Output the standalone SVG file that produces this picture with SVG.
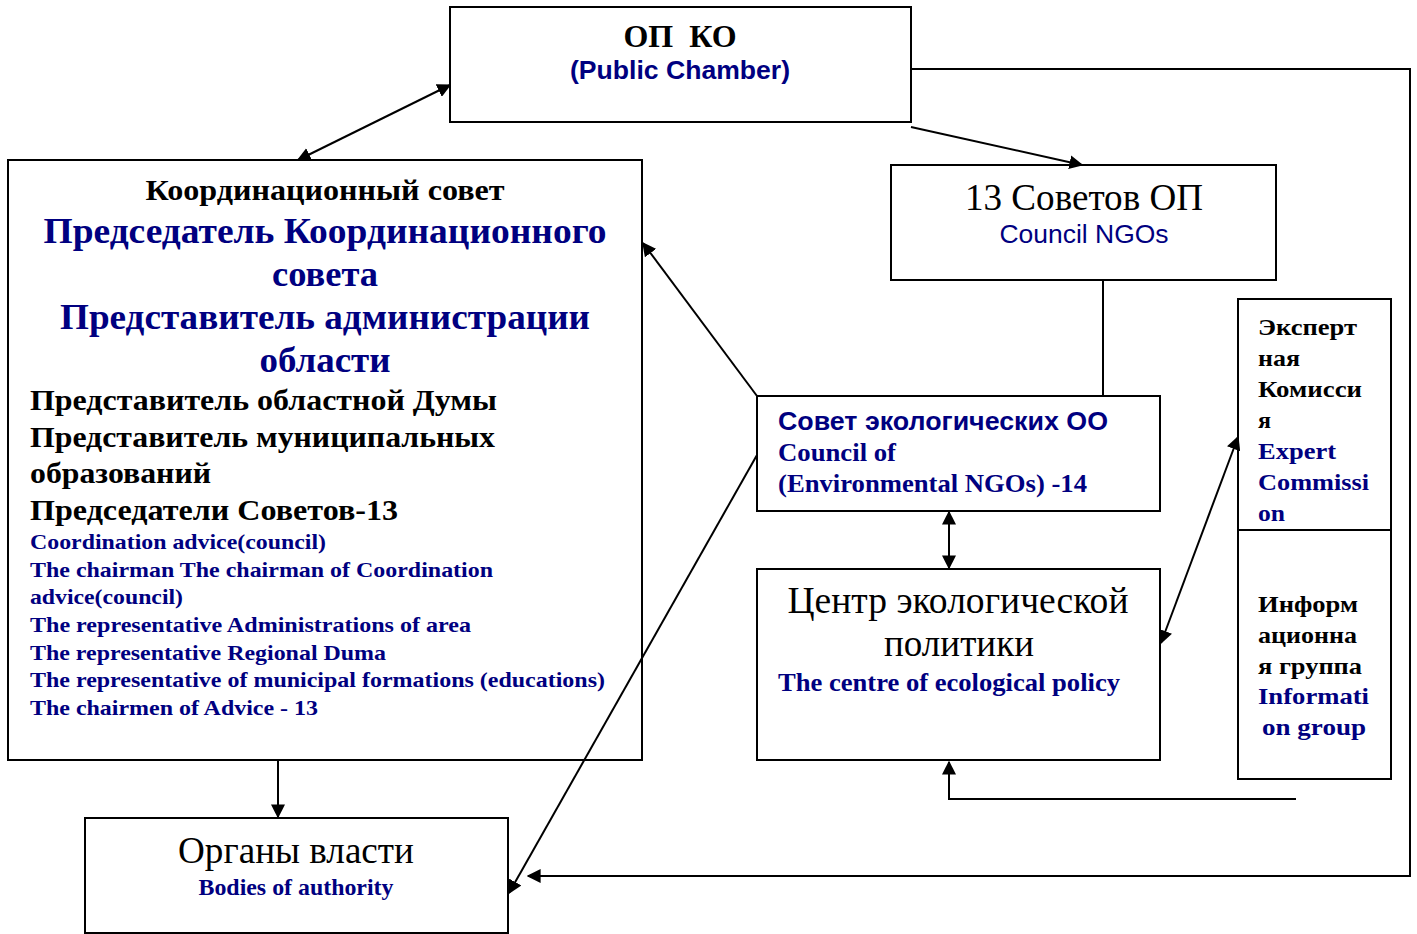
<svg xmlns="http://www.w3.org/2000/svg" width="1417" height="934" viewBox="0 0 1417 934">
<style>
.box{fill:#fff;stroke:#000;stroke-width:2}
.ln{fill:none;stroke:#000;stroke-width:2}
.ser{font-family:"Liberation Serif","Times New Roman",serif}
.san{font-family:"Liberation Sans",Arial,sans-serif}
.b{font-weight:bold}
.blue{fill:#000080}
.blk{fill:#000}
.c{text-anchor:middle}
text{white-space:pre}
</style>
<defs>
<marker id="ah" viewBox="0 0 10 10" refX="9" refY="5" markerWidth="14" markerHeight="14" markerUnits="userSpaceOnUse" orient="auto-start-reverse">
<path d="M0,0 L10,5 L0,10 z" fill="#000"/>
</marker>
</defs>
<rect width="1417" height="934" fill="#fff"/>
<g id="node-op">
<rect class="box" x="450" y="7" width="461" height="115"/>
<text class="ser b blk c" x="680" y="47" font-size="32" textLength="113" lengthAdjust="spacingAndGlyphs">ОП  КО</text>
<text class="san b blue c" x="680" y="79" font-size="26" textLength="220" lengthAdjust="spacingAndGlyphs">(Public Chamber)</text>
</g>
<g id="node-coord">
<rect class="box" x="8" y="160" width="634" height="600"/>
<text class="ser b blk c" x="325" y="200" font-size="29" textLength="359" lengthAdjust="spacingAndGlyphs">Координационный совет</text>
<text class="ser b blue c" x="325" y="243" font-size="36" textLength="563" lengthAdjust="spacingAndGlyphs">Председатель Координационного</text>
<text class="ser b blue c" x="325" y="286" font-size="36" textLength="106" lengthAdjust="spacingAndGlyphs">совета</text>
<text class="ser b blue c" x="325" y="329" font-size="36" textLength="530" lengthAdjust="spacingAndGlyphs">Представитель администрации</text>
<text class="ser b blue c" x="325" y="372" font-size="36" textLength="131" lengthAdjust="spacingAndGlyphs">области</text>
<text class="ser b blk" x="30" y="410" font-size="30" textLength="467" lengthAdjust="spacingAndGlyphs">Представитель областной Думы</text>
<text class="ser b blk" x="30" y="447" font-size="30" textLength="465" lengthAdjust="spacingAndGlyphs">Представитель муниципальных</text>
<text class="ser b blk" x="30" y="483" font-size="30" textLength="181" lengthAdjust="spacingAndGlyphs">образований</text>
<text class="ser b blk" x="30" y="520" font-size="30" textLength="368" lengthAdjust="spacingAndGlyphs">Председатели Советов-13</text>
<text class="ser b blue" x="30" y="549" font-size="22" textLength="296" lengthAdjust="spacingAndGlyphs">Coordination advice(council)</text>
<text class="ser b blue" x="30" y="577" font-size="22" textLength="463" lengthAdjust="spacingAndGlyphs">The chairman The chairman of Coordination</text>
<text class="ser b blue" x="30" y="604" font-size="22" textLength="153" lengthAdjust="spacingAndGlyphs">advice(council)</text>
<text class="ser b blue" x="30" y="632" font-size="22" textLength="441" lengthAdjust="spacingAndGlyphs">The representative Administrations of area</text>
<text class="ser b blue" x="30" y="660" font-size="22" textLength="356" lengthAdjust="spacingAndGlyphs">The representative Regional Duma</text>
<text class="ser b blue" x="30" y="687" font-size="22" textLength="575" lengthAdjust="spacingAndGlyphs">The representative of municipal formations (educations)</text>
<text class="ser b blue" x="30" y="715" font-size="22" textLength="288" lengthAdjust="spacingAndGlyphs">The chairmen of Advice - 13</text>
</g>
<g id="node-13">
<rect class="box" x="891" y="165" width="385" height="115"/>
<text class="ser blk c" x="1084" y="210" font-size="37" textLength="238" lengthAdjust="spacingAndGlyphs">13 Советов ОП</text>
<text class="san blue c" x="1084" y="243" font-size="26" textLength="169" lengthAdjust="spacingAndGlyphs">Council NGOs</text>
</g>
<g id="node-sovet">
<rect class="box" x="757" y="396" width="403" height="115"/>
<text class="san b blue" x="778" y="430" font-size="26" textLength="330" lengthAdjust="spacingAndGlyphs">Совет экологических ОО</text>
<text class="ser b blue" x="778" y="461" font-size="26" textLength="118" lengthAdjust="spacingAndGlyphs">Council of</text>
<text class="ser b blue" x="778" y="492" font-size="26" textLength="309" lengthAdjust="spacingAndGlyphs">(Environmental NGOs) -14</text>
</g>
<g id="node-centr">
<rect class="box" x="757" y="569" width="403" height="191"/>
<text class="ser blk c" x="958" y="613" font-size="37" textLength="341" lengthAdjust="spacingAndGlyphs">Центр экологической</text>
<text class="ser blk c" x="959" y="656" font-size="37" textLength="150" lengthAdjust="spacingAndGlyphs">политики</text>
<text class="ser b blue" x="778" y="691" font-size="26" textLength="342" lengthAdjust="spacingAndGlyphs">The centre of ecological policy</text>
</g>
<g id="node-expert">
<rect class="box" x="1238" y="299" width="153" height="480"/>
<line class="ln" x1="1238" y1="530" x2="1391" y2="530"/>
<text class="ser b blk" x="1258" y="335" font-size="24" textLength="99" lengthAdjust="spacingAndGlyphs">Эксперт</text>
<text class="ser b blk" x="1258" y="366" font-size="24" textLength="42" lengthAdjust="spacingAndGlyphs">ная</text>
<text class="ser b blk" x="1258" y="397" font-size="24" textLength="104" lengthAdjust="spacingAndGlyphs">Комисси</text>
<text class="ser b blk" x="1258" y="428" font-size="24">я</text>
<text class="ser b blue" x="1258" y="459" font-size="24" textLength="78" lengthAdjust="spacingAndGlyphs">Expert</text>
<text class="ser b blue" x="1258" y="490" font-size="24" textLength="111" lengthAdjust="spacingAndGlyphs">Commissi</text>
<text class="ser b blue" x="1258" y="521" font-size="24" textLength="27" lengthAdjust="spacingAndGlyphs">on</text>
<text class="ser b blk" x="1258" y="612" font-size="24" textLength="100" lengthAdjust="spacingAndGlyphs">Информ</text>
<text class="ser b blk" x="1258" y="643" font-size="24" textLength="99" lengthAdjust="spacingAndGlyphs">ационна</text>
<text class="ser b blk" x="1258" y="674" font-size="24" textLength="104" lengthAdjust="spacingAndGlyphs">я группа</text>
<text class="ser b blue" x="1258" y="704" font-size="24" textLength="111" lengthAdjust="spacingAndGlyphs">Informati</text>
<text class="ser b blue" x="1262" y="735" font-size="24" textLength="104" lengthAdjust="spacingAndGlyphs">on group</text>
</g>
<g id="node-organy">
<rect class="box" x="85" y="818" width="423" height="115"/>
<text class="ser blk c" x="296" y="863" font-size="37" textLength="236" lengthAdjust="spacingAndGlyphs">Органы власти</text>
<text class="ser b blue c" x="296" y="895" font-size="24" textLength="195" lengthAdjust="spacingAndGlyphs">Bodies of authority</text>
</g>
<g id="connectors">
<line class="ln" x1="298" y1="160" x2="450" y2="85" marker-start="url(#ah)" marker-end="url(#ah)"/>
<line class="ln" x1="911" y1="127" x2="1082" y2="165" marker-end="url(#ah)"/>
<polyline class="ln" points="912,69 1410,69 1410,876 528,876" marker-end="url(#ah)"/>
<line class="ln" x1="1103" y1="281" x2="1103" y2="395"/>
<line class="ln" x1="757" y1="396" x2="643" y2="243" marker-end="url(#ah)"/>
<line class="ln" x1="757" y1="455" x2="509" y2="893" marker-end="url(#ah)"/>
<line class="ln" x1="949" y1="512" x2="949" y2="568" marker-start="url(#ah)" marker-end="url(#ah)"/>
<line class="ln" x1="1161" y1="643" x2="1238" y2="437" marker-start="url(#ah)" marker-end="url(#ah)"/>
<polyline class="ln" points="1296,799 949,799 949,762" marker-end="url(#ah)"/>
<line class="ln" x1="278" y1="761" x2="278" y2="817" marker-end="url(#ah)"/>
</g>
</svg>
